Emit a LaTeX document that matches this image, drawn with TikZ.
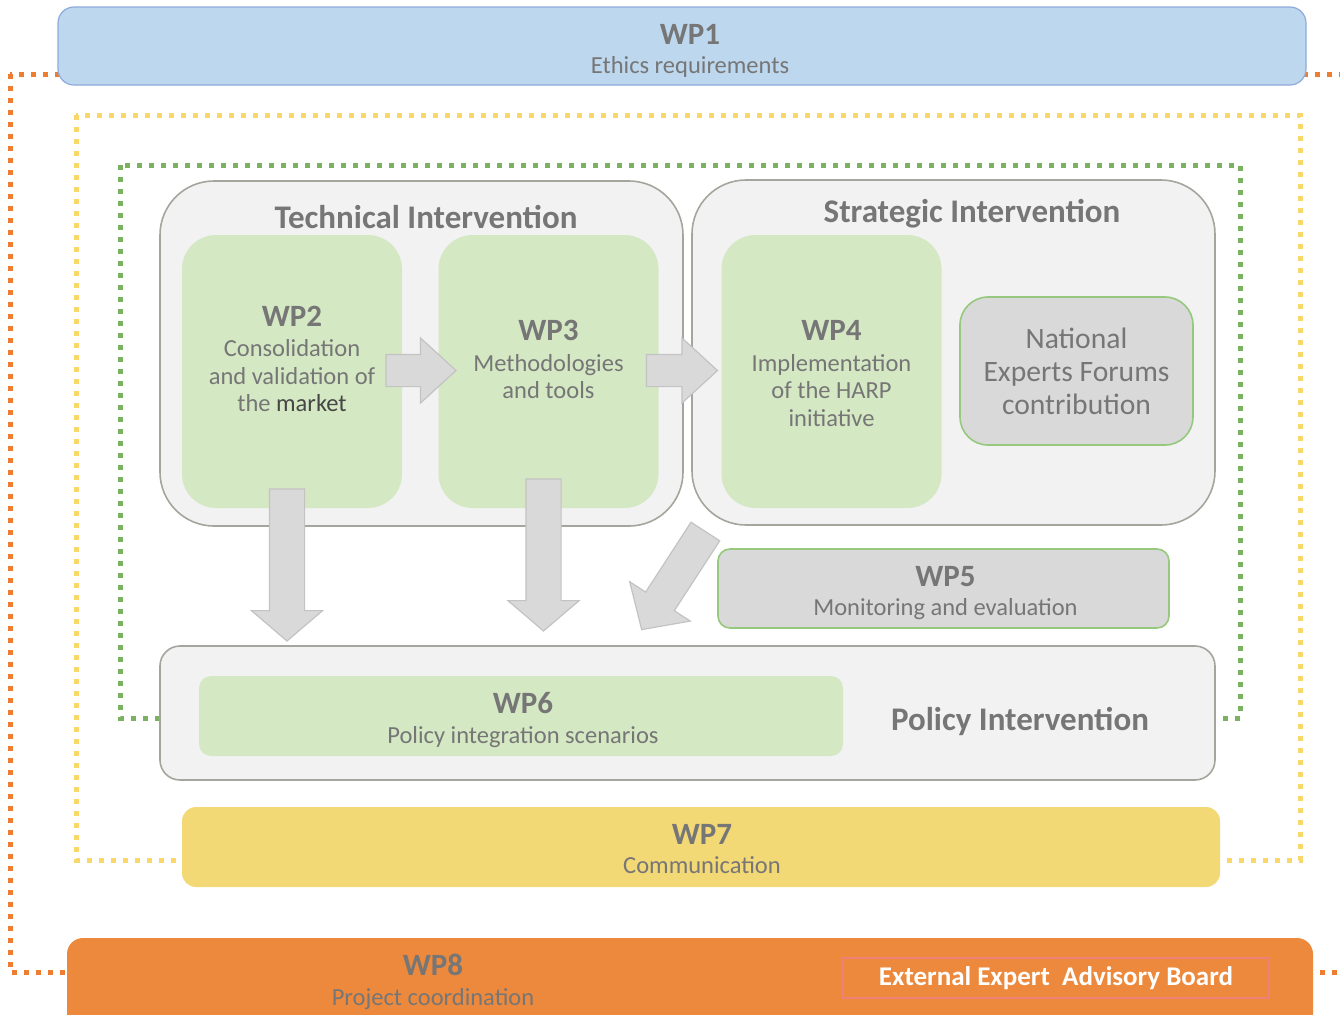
\documentclass[tikz,border=0pt]{standalone}
\usepackage{fontspec}
\setmainfont{Carlito}
\usetikzlibrary{shapes.arrows,calc}

\definecolor{txtgray}{RGB}{118,118,118}
\definecolor{darktxt}{RGB}{70,70,70}
\definecolor{boxgray}{RGB}{242,242,242}
\definecolor{linegray}{RGB}{165,165,158}
\definecolor{wpgreen}{RGB}{213,232,196}
\definecolor{wpgrey}{RGB}{217,217,217}
\definecolor{rimgreen}{RGB}{150,200,125}
\definecolor{ethicsblue}{RGB}{189,215,238}
\definecolor{ethicsrim}{RGB}{143,170,220}
\definecolor{commyellow}{RGB}{243,216,118}
\definecolor{coordorange}{RGB}{237,137,60}
\definecolor{frameorange}{RGB}{237,125,49}
\definecolor{frameyellow}{RGB}{250,215,105}
\definecolor{framegreen}{RGB}{122,178,98}
\definecolor{arrowgray}{RGB}{217,217,217}
\definecolor{arrowrim}{RGB}{195,195,195}
\definecolor{boardrim}{RGB}{240,128,118}

% bold work package number
\newcommand{\wptitle}[1]{{\fontsize{15.5}{13.75}\selectfont\bfseries #1}}

\begin{document}
\begin{tikzpicture}[x=0.5pt, y=-0.5pt,
    every node/.style={text=txtgray, font=\fontsize{12.25}{13.75}\selectfont, align=center, inner sep=0pt},
    frame/.style={line width=2.5pt, dash pattern=on 2.5pt off 3.5pt},
    area/.style={draw=linegray, fill=boxgray, line width=0.8pt},
    wpbox/.style={fill=wpgreen, rounded corners=17pt},
    greybox/.style={draw=rimgreen, fill=wpgrey, line width=0.8pt},
    blockarrow/.style={single arrow, draw=arrowrim, fill=arrowgray, line width=0.6pt, inner xsep=0pt, anchor=tail, minimum height=#1},
    title/.style={font=\fontsize{16.5}{18}\selectfont\bfseries}
]
    \useasboundingbox (0,0) rectangle (1340,1014);

    % dotted frames, partly hidden by the boxes on top
    \begin{scope}
        \draw[frame, frameorange] (10,74) rectangle (1345,972);
        \draw[frame, frameyellow] (76,115) rectangle (1300,860);
        \draw[frame, framegreen] (120,165) rectangle (1240,718);
    \end{scope}

    \node[draw=ethicsrim, fill=ethicsblue, rounded corners=8pt, line width=0.6pt,
          minimum width=624pt, minimum height=39pt] (wp1) at (682,46) {};
    \node (wp1text) at ($(wp1)+(8,5)$) {\wptitle{WP1}\\[1pt] Ethics requirements};

    % technical and strategic intervention
    \node[area, rounded corners=27pt, minimum width=261.5pt, minimum height=172.5pt] (tech) at (421.5,353.5) {};
    \node[area, rounded corners=27pt, minimum width=261.5pt, minimum height=172.5pt] (strat) at (953.5,352.5) {};
    \node[title] (techtitle) at (426,217) {Technical Intervention};
    \node[title] (strattitle) at (972,214) {Strategic Intervention};

    \node[wpbox, minimum width=110pt, minimum height=136.5pt] (wp2) at (292,371.5) {};
    \node (wp2text) at ($(wp2)+(0,-12.5)$)
        {\wptitle{WP2}\\[1.5pt] Consolidation\\ and validation of\\ the {\color{darktxt}market}};
    \node[wpbox, minimum width=110pt, minimum height=136.5pt] (wp3) at (548.5,371.5) {};
    \node (wp3text) at ($(wp3)+(0,-12)$)
        {\wptitle{WP3}\\[1.5pt] Methodologies\\ and tools};
    \node[wpbox, minimum width=110pt, minimum height=136.5pt] (wp4) at (831.5,371.5) {};
    \node (wp4text) at ($(wp4)+(0,2)$)
        {\wptitle{WP4}\\[1.5pt] Implementation\\ of the HARP\\ initiative};
    \node[greybox, rounded corners=14pt, minimum width=116.5pt, minimum height=74pt,
          font=\fontsize{14.8}{16.5}\selectfont] (nef) at (1076.5,371)
        {National\\ Experts Forums\\ contribution};

    \node[greybox, rounded corners=6pt, minimum width=225.5pt, minimum height=39.5pt] (wp5) at (943.5,588.5) {};
    \node (wp5text) at ($(wp5)+(2,4.5)$) {\wptitle{WP5}\\[1pt] Monitoring and evaluation};

    % policy intervention
    \node[area, rounded corners=10pt, minimum width=527.5pt, minimum height=67pt] (policy) at (687.5,713) {};
    \node[wpbox, rounded corners=6pt, minimum width=322pt, minimum height=40pt] (wp6) at (521,716) {};
    \node (wp6text) at ($(wp6)+(2,4)$) {\wptitle{WP6}\\[1pt] Policy integration scenarios};
    \node[title] (policytitle) at (1020,721) {Policy Intervention};

    \node[fill=commyellow, rounded corners=7pt, minimum width=519pt, minimum height=40pt] (wp7) at (701,847) {};
    \node (wp7text) at ($(wp7)+(1,2)$) {\wptitle{WP7}\\[1pt] Communication};

    \node[fill=coordorange, rounded corners=8pt, minimum width=623pt, minimum height=51pt] (wp8) at (690,989) {};
    \node (wp8text) at (433,982) {\wptitle{WP8}\\[1pt] Project coordination};
    \node[draw=boardrim, line width=0.6pt, minimum width=213pt, minimum height=20pt,
          text=white, font=\fontsize{13.5}{14}\selectfont\bfseries] (board) at (1056,978)
        {External Expert\ \ Advisory Board};

    % block arrows between the work packages, placed by their tails
    \node[blockarrow=35pt, inner ysep=7.75pt, minimum width=32pt, single arrow head extend=8.25pt, single arrow tip angle=85]
        (arr23) at ($(wp2.east)+(-17,-1)$) {};
    \node[blockarrow=35.5pt, inner ysep=7.75pt, minimum width=32pt, single arrow head extend=8.25pt, single arrow tip angle=85]
        (arr34) at ($(wp3.east)+(-13,-1)$) {};
    \node[blockarrow=76pt, inner ysep=8.5pt, minimum width=35pt, single arrow head extend=9pt, single arrow tip angle=99, rotate=-90]
        (arr2p) at ($(wp2.south)+(-5,-20)$) {};
    \node[blockarrow=76pt, inner ysep=8.5pt, minimum width=35pt, single arrow head extend=9pt, single arrow tip angle=99, rotate=-90]
        (arr3p) at ($(wp3.south)+(-5,-30)$) {};
    \node[blockarrow=58.5pt, inner ysep=8.25pt, minimum width=35.5pt, single arrow head extend=9.5pt, single arrow tip angle=94, rotate=-123]
        (arr5p) at ($(wp5.west)+(-11.5,-57.5)$) {};

\end{tikzpicture}
\end{document}
